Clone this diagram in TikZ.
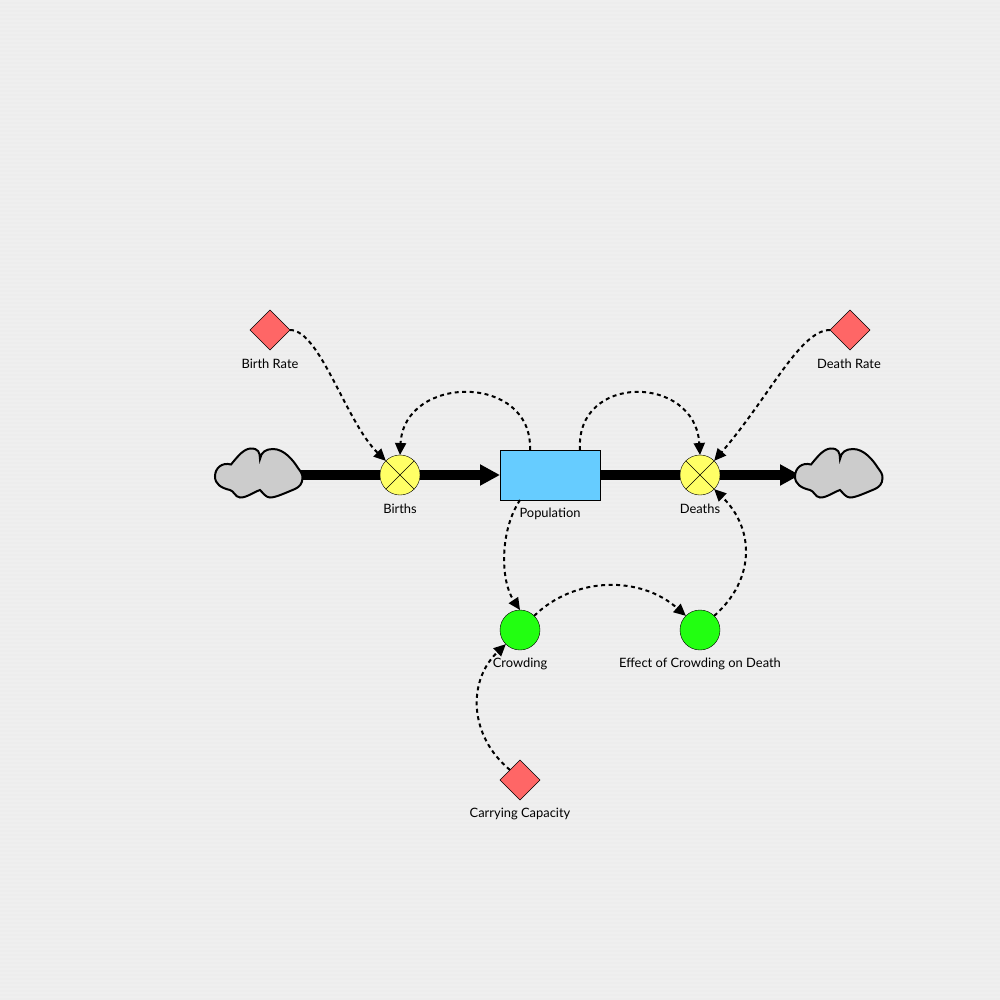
\documentclass[tikz,border=0pt]{standalone}
\usepackage{fontspec}
\setmainfont{Lato}
\usetikzlibrary{calc,shapes.geometric,arrows.meta}
\definecolor{canvas}{HTML}{EDEDED}
\definecolor{stripe}{HTML}{EFEFEF}
\definecolor{stockblue}{HTML}{66CCFF}
\definecolor{valveyellow}{HTML}{FFFF66}
\definecolor{auxgreen}{HTML}{22FF11}
\definecolor{ratered}{HTML}{FF6666}
\definecolor{cloudgray}{HTML}{CCCCCC}
\tikzset{
  stock/.style={ % the level box
    draw, rectangle, minimum width=100pt, minimum height=50pt,
    inner sep=0pt, outer sep=0pt, fill=stockblue
  },
  valve/.style={ % flow regulator
    draw, circle, minimum size=40pt, inner sep=0pt, outer sep=0pt, fill=valveyellow,
    path picture = {
      \draw[black]
      (path picture bounding box.north west) --
      (path picture bounding box.south east)
      (path picture bounding box.south west) --
      (path picture bounding box.north east);
    }
  },
  aux/.style={
    draw, circle, minimum size=40pt, inner sep=0pt, outer sep=0pt, fill=auxgreen
  },
  rate/.style={
    draw, diamond, minimum width=40pt, minimum height=40pt,
    inner sep=0pt, outer sep=0pt, fill=ratered
  },
  tag/.style={font=\fontsize{12.9}{15}\selectfont, inner sep=0pt, text=black},
  pipe/.style={line width=10pt, draw=black},
  pipeend/.style={pipe, -{Triangle[length=20pt,width=20pt]}},
  link/.style={
    line width=2pt, dash pattern=on 4pt off 3.5pt,
    -{Triangle[length=12pt,width=11pt]}
  },
  cloudblob/.pic={
    \draw[line width=2pt, fill=cloudgray]
      (302.5,478) .. controls (302.5,484) and (299,487) .. (295,489)
      .. controls (285,493) and (276,497.5) .. (270,497.5)
      .. controls (266,497.5) and (263,493) .. (260,490)
      .. controls (254,492) and (246,498) .. (240,497.5)
      .. controls (235,497) and (234,491) .. (230,490)
      .. controls (221,488) and (215,484) .. (215,476.5)
      .. controls (215,468) and (222,462) .. (231,464.5)
      .. controls (238,456) and (244,448.5) .. (251,448.5)
      .. controls (258,448.5) and (260,452) .. (260,459)
      .. controls (261,452) and (266,449) .. (273,449)
      .. controls (284,449) and (293,460) .. (298,468)
      .. controls (301,472) and (302.5,474) .. (302.5,478) -- cycle;
  }
}
\begin{document}
\begin{tikzpicture}[x=1pt,y=-1pt]
  \path[fill=canvas] (0,0) rectangle (1000,1000);
  \foreach \row in {0,4,...,996}
    \fill[stripe] (0,\row) rectangle (1000,\row+2);

  \node[stock] (population) at (550,475) {};
  \node[valve] (births) at (400,475) {};
  \node[valve] (deaths) at (700,475) {};
  \node[aux] (crowding) at (520,630) {};
  \node[aux] (effect) at (700,630) {};
  \node[rate] (birthrate) at (270,330) {};
  \node[rate] (deathrate) at (850,330) {};
  \node[rate] (capacity) at (520,780) {};
  \coordinate (source) at (295,475);
  \coordinate (sink) at (800,475);

  \node[tag] (births_label) at (400,509) {Births};
  \node[tag] (deaths_label) at (700,509) {Deaths};
  \node[tag] (population_label) at (550,514) {Population};
  \node[tag] (crowding_label) at (520,664) {Crowding};
  \node[tag] (effect_label) at (700,664) {Effect of Crowding on Death};
  \node[tag] (birthrate_label) at (270,364) {Birth Rate};
  \node[tag] (deathrate_label) at (849,364) {Death Rate};
  \node[tag] (capacity_label) at (520,814) {Carrying Capacity};

  \draw[pipe] (source) -- (births.west);
  \draw[pipeend] (births.east) -- (population.west);
  \draw[pipe] (population.east) -- (deaths.west);
  \draw[pipeend] (deaths.east) -- (sink);

  \pic at (0,0) {cloudblob};
  \pic at (580,0) {cloudblob};

  \draw[link] (birthrate.east) .. controls +(30,0) and +(-40,-39) .. (births.135);
  \draw[link] (deathrate.west) .. controls +(-30,0) and +(56,-65) .. (deaths.45);
  \draw[link] ($(population.north)+(-20,0)$) .. controls +(3,-77) and +(4,-81) .. (births.north);
  \draw[link] ($(population.north)+(30,0)$) .. controls +(-5,-77) and +(-5,-81) .. (deaths.north);
  \draw[link] ($(population.south)+(-30,0)$) .. controls +(-20,30) and +(-20,-30) .. (crowding.north);
  \draw[link] (crowding.45) .. controls +(41,-40) and +(-45,-40) .. (effect.135);
  \draw[link] (effect.45) .. controls +(41,-36) and +(41,40) .. (deaths.-45);
  \draw[link] (capacity.135) .. controls +(-42,-35) and +(-38,36) .. (crowding.-135);
\end{tikzpicture}
\end{document}
